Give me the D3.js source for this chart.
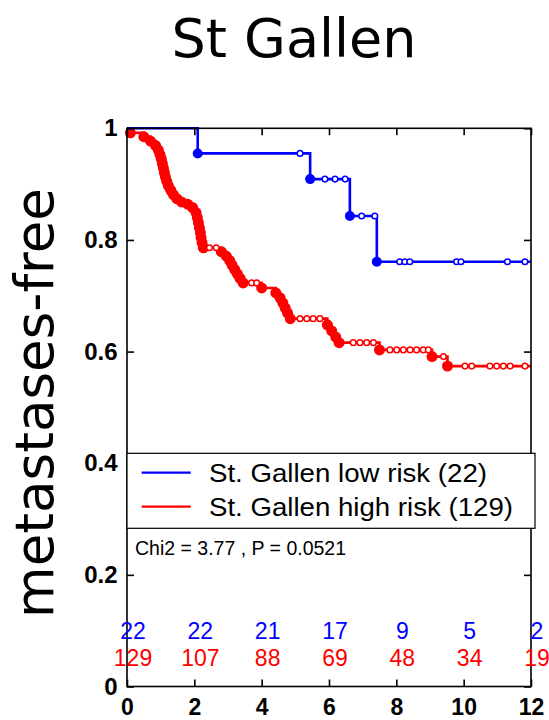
<!DOCTYPE html>
<html>
<head>
<meta charset="utf-8">
<script src="https://cdn.jsdelivr.net/npm/d3@7/dist/d3.min.js"></script>
<style>
  html, body { margin: 0; padding: 0; background: #fff; }
  svg { display: block; }
</style>
</head>
<body>
<div id="chart"></div>
<script>
// ---------- data ----------
const title = "St Gallen";
const yTitle = "metastases-free";
const xTicks = [0, 2, 4, 6, 8, 10, 12];
const yTicks = [0, 0.2, 0.4, 0.6, 0.8, 1];
const yTickLabels = ["0", "0.2", "0.4", "0.6", "0.8", "1"];

// low risk: event times and survival after each drop
const lowEventTimes = [2.1, 5.44, 6.62, 7.42];
const lowEventSurv  = [0.955, 0.909, 0.843, 0.761];
const lowCensorTimes = [5.14, 5.88, 6.18, 6.48, 6.97, 7.36, 8.1, 8.25, 8.4, 9.79, 9.92, 11.3, 11.82];

// high risk
const highEventTimes = [0.1, 0.5, 0.7, 0.85, 0.93, 0.98, 1.02, 1.05, 1.08, 1.11, 1.14, 1.18, 1.23, 1.3, 1.38, 1.48, 1.62, 1.8, 1.95,
  2.05, 2.09, 2.12, 2.15, 2.18, 2.2, 2.23, 2.27, 2.8, 2.95, 3.05, 3.12, 3.2, 3.28, 3.36, 3.45,
  4.0, 4.42, 4.55, 4.63, 4.7, 4.77, 4.85, 5.95, 6.08, 6.2, 6.3, 7.5, 9.06, 9.52];
const highEventSurv = [0.992, 0.985, 0.977, 0.969, 0.961, 0.953, 0.945, 0.937, 0.929, 0.921, 0.913, 0.905, 0.897, 0.889, 0.881, 0.874, 0.868, 0.864, 0.858,
  0.849, 0.840, 0.831, 0.822, 0.813, 0.804, 0.795, 0.786, 0.779, 0.771, 0.763, 0.755, 0.747, 0.739, 0.731, 0.723,
  0.714, 0.705, 0.696, 0.687, 0.678, 0.669, 0.659, 0.648, 0.637, 0.626, 0.616, 0.603, 0.591, 0.574];
const highCensorTimes = [2.45, 2.65, 3.7, 3.85, 5.14, 5.34, 5.53, 5.73, 6.72, 6.92, 7.12, 7.32, 7.81, 8.01, 8.21, 8.41, 8.6, 8.8, 8.95,
  9.4, 10.04, 10.24, 10.78, 10.98, 11.18, 11.38, 11.82];

const seriesNames = ["St. Gallen low risk (22)", "St. Gallen high risk (129)"];
const seriesColors = ["#0000ff", "#ff0000"];
const statText = "Chi2 = 3.77 , P = 0.0521";

const riskTimes = [0, 2, 4, 6, 8, 10, 12];
const lowAtRisk = [22, 22, 21, 17, 9, 5, 2];
const highAtRisk = [129, 107, 88, 69, 48, 34, 19];

// ---------- layout ----------
const W = 549, H = 720;
const svg = d3.select("#chart").append("svg").attr("width", W).attr("height", H);
svg.append("rect").attr("width", W).attr("height", H).attr("fill", "#fff");

const x = d3.scaleLinear().domain([0, 12]).range([127, 531]);
const y = d3.scaleLinear().domain([0, 1]).range([686.5, 128.3]);
const axisFont = "'Liberation Sans', Arial, Helvetica, sans-serif";

// title
svg.append("text").attr("x", 294).attr("y", 57).attr("text-anchor", "middle")
  .attr("font-family", "'Comic Sans MS', 'DejaVu Sans', sans-serif").attr("font-size", 54)
  .attr("fill", "#000").text(title);

// y title
svg.append("text").attr("transform", "translate(53,403) rotate(-90)").attr("text-anchor", "middle")
  .attr("font-family", "'Comic Sans MS', 'DejaVu Sans', sans-serif").attr("font-size", 53)
  .attr("fill", "#000").text(yTitle);

// curves
function buildPoints(times, surv) {
  const pts = [[0, 1]];
  times.forEach((t, i) => pts.push([t, surv[i]]));
  pts.push([12, surv[surv.length - 1]]);
  return pts;
}
function survAt(times, surv, t) {
  let s = 1;
  times.forEach((et, i) => { if (et <= t) s = surv[i]; });
  return s;
}
const line = d3.line().x(d => x(d[0])).y(d => y(d[1])).curve(d3.curveStepAfter);

const series = [
  { times: lowEventTimes, surv: lowEventSurv, cens: lowCensorTimes, color: seriesColors[0], r: 5 },
  { times: highEventTimes, surv: highEventSurv, cens: highCensorTimes, color: seriesColors[1], r: 5.5 }
];

const plot = svg.append("g");
series.slice().reverse().forEach(s => {
  const g = plot.append("g");
  g.append("path").attr("d", line(buildPoints(s.times, s.surv)))
    .attr("fill", "none").attr("stroke", s.color).attr("stroke-width", 2.6);
  g.selectAll("circle.ev").data(s.times.map((t, i) => [t, s.surv[i]])).join("circle")
    .attr("class", "ev").attr("cx", d => x(d[0])).attr("cy", d => y(d[1])).attr("r", s.r)
    .attr("fill", s.color);
  g.selectAll("circle.cs").data(s.cens.map(t => [t, survAt(s.times, s.surv, t)])).join("circle")
    .attr("class", "cs").attr("cx", d => x(d[0])).attr("cy", d => y(d[1])).attr("r", 2.8)
    .attr("fill", "#fff").attr("stroke", s.color).attr("stroke-width", 1.5);
});

// frame & axes
const frame = svg.append("g");
frame.append("rect").attr("x", x(0)).attr("y", y(1)).attr("width", x(12) - x(0)).attr("height", y(0) - y(1))
  .attr("fill", "none").attr("stroke", "#000").attr("stroke-width", 1.6);

const xAxis = svg.append("g").attr("transform", `translate(0,${y(0)})`)
  .call(d3.axisBottom(x).tickValues(xTicks).tickFormat(d3.format("d")).tickSizeInner(-7).tickSizeOuter(0).tickPadding(12));
const xAxisTop = svg.append("g").attr("transform", `translate(0,${y(1)})`)
  .call(d3.axisTop(x).tickValues(xTicks).tickFormat("").tickSizeInner(-7).tickSizeOuter(0));
const yAxis = svg.append("g").attr("transform", `translate(${x(0)},0)`)
  .call(d3.axisLeft(y).tickValues(yTicks).tickFormat((d, i) => yTickLabels[i]).tickSizeInner(-7).tickSizeOuter(0).tickPadding(9.5));
const yAxisR = svg.append("g").attr("transform", `translate(${x(12)},0)`)
  .call(d3.axisRight(y).tickValues(yTicks).tickFormat("").tickSizeInner(-7).tickSizeOuter(0));
[xAxis, xAxisTop, yAxis, yAxisR].forEach(a => {
  a.select(".domain").remove();
  a.selectAll(".tick line").attr("stroke", "#000").attr("stroke-width", 1.6);
  a.selectAll("text").attr("font-family", axisFont).attr("font-size", 24).attr("font-weight", "bold").attr("fill", "#000");
});
xAxis.selectAll("text").attr("font-size", 23);

// legend
const leg = svg.append("g");
leg.append("rect").attr("x", 127).attr("y", 453.3).attr("width", 408).attr("height", 75)
  .attr("fill", "#fff").attr("stroke", "#000").attr("stroke-width", 1.2);
const legendWidths = [278, 304];
seriesNames.forEach((n, i) => {
  const ly = [472.7, 506.7][i];
  leg.append("line").attr("x1", 141.7).attr("x2", 190.7).attr("y1", ly).attr("y2", ly)
    .attr("stroke", seriesColors[i]).attr("stroke-width", 2.2);
  leg.append("text").attr("x", 209).attr("y", ly + 9).attr("font-family", axisFont).attr("font-size", 26.5)
    .attr("textLength", legendWidths[i]).attr("lengthAdjust", "spacingAndGlyphs")
    .attr("fill", "#000").text(n);
});

// stat text
svg.append("text").attr("x", 135).attr("y", 555).attr("font-family", axisFont).attr("font-size", 19.5)
  .attr("fill", "#000").text(statText);

// at risk numbers
const risk = svg.append("g").attr("font-family", axisFont).attr("font-size", 23).attr("text-anchor", "middle");
risk.selectAll("text.low").data(riskTimes).join("text").attr("class", "low")
  .attr("x", d => x(d) + 6).attr("y", 639).attr("fill", seriesColors[0]).text((d, i) => lowAtRisk[i]);
risk.selectAll("text.high").data(riskTimes).join("text").attr("class", "high")
  .attr("x", d => x(d) + 6).attr("y", 666).attr("fill", seriesColors[1]).text((d, i) => highAtRisk[i]);
</script>
</body>
</html>
